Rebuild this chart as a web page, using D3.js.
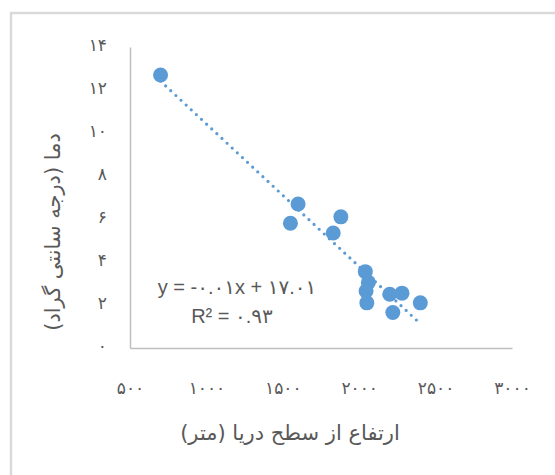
<!DOCTYPE html>
<html>
<head>
<meta charset="utf-8">
<script src="https://cdn.jsdelivr.net/npm/d3@7"></script>
<style>
  html, body { margin: 0; padding: 0; background: #fff; }
  svg { display: block; }
</style>
</head>
<body>
<svg id="chart" width="555" height="475"></svg>
<script>
// Data
const altitude = [700, 1600, 1550, 1880, 1830, 2040, 2060, 2045, 2050, 2200, 2280, 2220, 2400];
const temperature = [12.7, 6.7, 5.8, 6.1, 5.35, 3.55, 3.05, 2.65, 2.1, 2.5, 2.55, 1.65, 2.1];
const xTicks = [500, 1000, 1500, 2000, 2500, 3000];
const yTicks = [0, 2, 4, 6, 8, 10, 12, 14];
const xTitle = "ارتفاع از سطح دریا (متر)";
const yTitle = "دما (درجه سانتی گراد)";
const eqLine1 = "y = -۰.۰۱x + ۱۷.۰۱";
const eqLine2 = "R² = ۰.۹۳";

const faDigits = "۰۱۲۳۴۵۶۷۸۹";
const toFa = v => String(v).replace(/[0-9]/g, d => faDigits[+d]);

const svg = d3.select("#chart");
const plotLeft = 130, plotRight = 512, plotTop = 47, plotBottom = 348;
const x = d3.scaleLinear().domain([500, 3000]).range([plotLeft, plotRight]);
const y = d3.scaleLinear().domain([0, 14]).range([plotBottom, plotTop]);

// chart frame (cropped at right/bottom like reference)
svg.append("rect")
  .attr("x", 11).attr("y", 13).attr("width", 700).attr("height", 700)
  .attr("fill", "none").attr("stroke", "#d9d9d9").attr("stroke-width", 2.5);

const font = "'DejaVu Sans', 'Noto Sans', sans-serif";
const labelColor = "#595959";
const axisColor = "#bfbfbf";

// X axis
const gx = svg.append("g").attr("transform", `translate(0,${plotBottom})`)
  .call(d3.axisBottom(x).tickValues(xTicks).tickSize(0).tickPadding(34).tickFormat(toFa));
gx.select(".domain").attr("stroke", axisColor).attr("stroke-width", 1.5);
gx.selectAll("text").attr("fill", labelColor).style("font-family", font)
  .style("font-size", "17px").style("letter-spacing", "1.5px");

// Y axis
const gy = svg.append("g").attr("transform", `translate(${plotLeft},0)`)
  .call(d3.axisLeft(y).tickValues(yTicks).tickSize(0).tickPadding(23).tickFormat(toFa));
gy.select(".domain").attr("stroke", axisColor).attr("stroke-width", 1.5);
gy.selectAll("text").attr("fill", labelColor).style("font-family", font)
  .style("font-size", "17px").attr("dy", "0.2em");

// Axis titles
svg.append("text")
  .attr("x", 290).attr("y", 440)
  .attr("text-anchor", "middle").attr("direction", "rtl")
  .attr("fill", labelColor).style("font-family", font).style("font-size", "21px")
  .text(xTitle);

svg.append("text")
  .attr("transform", "translate(60,232) rotate(-90)")
  .attr("text-anchor", "middle").attr("direction", "rtl")
  .attr("fill", labelColor).style("font-family", font).style("font-size", "21px")
  .text(yTitle);

// Linear regression trendline
const n = altitude.length;
const mx = d3.mean(altitude), my = d3.mean(temperature);
let sxy = 0, sxx = 0;
for (let i = 0; i < n; i++) {
  sxy += (altitude[i] - mx) * (temperature[i] - my);
  sxx += (altitude[i] - mx) ** 2;
}
const slope = sxy / sxx, intercept = my - slope * mx;
const x0 = d3.min(altitude), x1 = d3.max(altitude);

// Points
svg.append("g").selectAll("circle")
  .data(altitude.map((a, i) => [a, temperature[i]]))
  .join("circle")
  .attr("cx", d => x(d[0])).attr("cy", d => y(d[1]))
  .attr("r", 7.5).attr("fill", "#5b9bd5");

svg.append("line")
  .attr("x1", x(x0)).attr("y1", y(slope * x0 + intercept))
  .attr("x2", x(x1)).attr("y2", y(slope * x1 + intercept))
  .attr("stroke", "#5b9bd5").attr("stroke-width", 3.2)
  .attr("stroke-linecap", "round").attr("stroke-dasharray", "0 7");

// Equation labels
const eqFont = "'Liberation Sans', 'DejaVu Sans', sans-serif";
svg.append("text")
  .attr("x", 237).attr("y", 294)
  .attr("text-anchor", "middle").attr("direction", "ltr")
  .attr("fill", labelColor).style("font-family", eqFont).style("font-size", "20px")
  .text(eqLine1);
svg.append("text")
  .attr("x", 232).attr("y", 323)
  .attr("text-anchor", "middle").attr("direction", "ltr")
  .attr("fill", labelColor).style("font-family", eqFont).style("font-size", "20px")
  .text(eqLine2);
</script>
</body>
</html>
